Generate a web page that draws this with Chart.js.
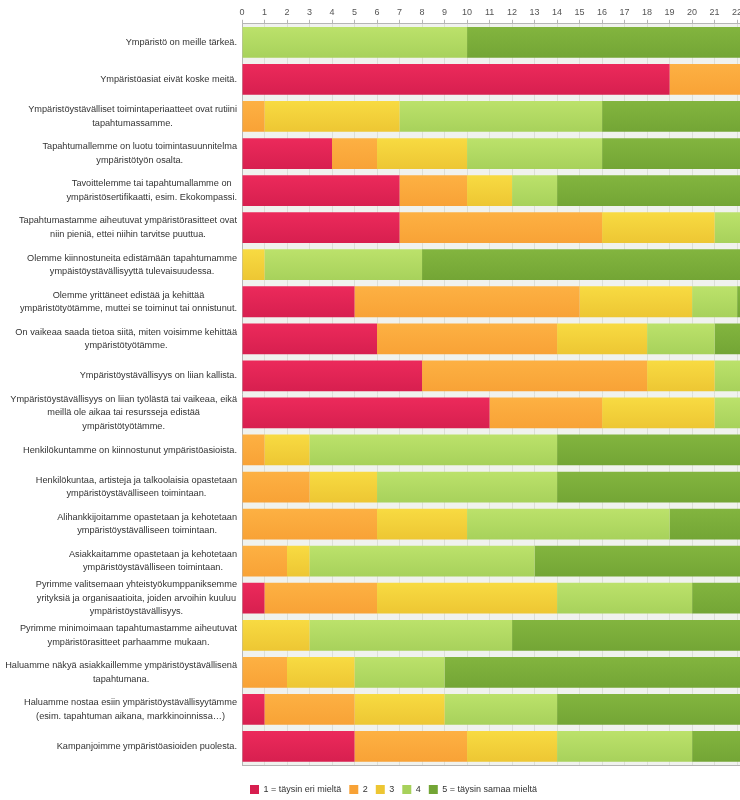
<!DOCTYPE html>
<html>
<head>
<meta charset="utf-8">
<script src="https://cdn.jsdelivr.net/npm/chart.js@4"></script>
<style>
  html, body { margin: 0; padding: 0; background: #fff; overflow: hidden; }
  #wrap { width: 740px; height: 800px; overflow: hidden; }
</style>
</head>
<body>
<div id="wrap"><canvas id="myChart" width="745" height="800"></canvas></div>
<script>
// vastaukset väittämittäin (lukumäärät)
var categories = [
    "Ympäristö on meille tärkeä.",
    "Ympäristöasiat eivät koske meitä.",
    ["Ympäristöystävälliset toimintaperiaatteet ovat rutiini", "tapahtumassamme."],
    ["Tapahtumallemme on luotu toimintasuunnitelma", "ympäristötyön osalta."],
    ["Tavoittelemme tai tapahtumallamme on", "ympäristösertifikaatti, esim. Ekokompassi."],
    ["Tapahtumastamme aiheutuvat ympäristörasitteet ovat", "niin pieniä, ettei niihin tarvitse puuttua."],
    ["Olemme kiinnostuneita edistämään tapahtumamme", "ympäistöystävällisyyttä tulevaisuudessa."],
    ["Olemme yrittäneet edistää ja kehittää", "ympäristötyötämme, muttei se toiminut tai onnistunut."],
    ["On vaikeaa saada tietoa siitä, miten voisimme kehittää", "ympäristötyötämme."],
    "Ympäristöystävällisyys on liian kallista.",
    ["Ympäristöystävällisyys on liian työlästä tai vaikeaa, eikä", "meillä ole aikaa tai resursseja edistää", "ympäristötyötämme."],
    "Henkilökuntamme on kiinnostunut ympäristöasioista.",
    ["Henkilökuntaa, artisteja ja talkoolaisia opastetaan", "ympäristöystävälliseen toimintaan."],
    ["Alihankkijoitamme opastetaan ja kehotetaan", "ympäristöystävälliseen toimintaan."],
    ["Asiakkaitamme opastetaan ja kehotetaan", "ympäristöystävälliseen toimintaan."],
    ["Pyrimme valitsemaan yhteistyökumppaniksemme", "yrityksiä ja organisaatioita, joiden arvoihin kuuluu", "ympäristöystävällisyys."],
    ["Pyrimme minimoimaan tapahtumastamme aiheutuvat", "ympäristörasitteet parhaamme mukaan."],
    ["Haluamme näkyä asiakkaillemme ympäristöystävällisenä", "tapahtumana."],
    ["Haluamme nostaa esiin ympäristöystävällisyytämme", "(esim. tapahtuman aikana, markkinoinnissa…)"],
    "Kampanjoimme ympäristöasioiden puolesta."
];

var seriesNames = ["1 = täysin eri mieltä", "2", "3", "4", "5 = täysin samaa mieltä"];

var vastaus1 = [0, 19, 0, 4, 7, 7, 0, 5, 6, 8, 11, 0, 0, 0, 0, 1, 0, 0, 1, 5];
var vastaus2 = [0, 5, 1, 2, 3, 9, 0, 10, 8, 10, 5, 1, 3, 6, 2, 5, 0, 2, 4, 5];
var vastaus3 = [0, 0, 6, 4, 2, 5, 1, 5, 4, 3, 5, 2, 3, 4, 1, 8, 3, 3, 4, 4];
var vastaus4 = [10, 0, 9, 6, 2, 3, 7, 2, 3, 3, 3, 11, 8, 9, 10, 6, 9, 4, 5, 6];
var vastaus5 = [14, 0, 8, 8, 10, 0, 16, 2, 3, 0, 0, 10, 10, 5, 11, 4, 12, 15, 10, 4];

var xTicksMax = 22;

var colorsTop = ['#ec2a5b', '#fdb143', '#f8db42', '#bce26b', '#83b53f'];
var colorsBottom = ['#d71f4f', '#f8a236', '#edc633', '#a7d15b', '#73a535'];

function barColor(i) {
    return function (context) {
        var chart = context.chart;
        var ys = chart.scales.y;
        if (context.type !== 'data' || !ys || !chart.chartArea) return colorsTop[i];
        var y = ys.getPixelForValue(context.dataIndex);
        var g = chart.ctx.createLinearGradient(0, y - 16, 0, y + 16);
        g.addColorStop(0, colorsTop[i]);
        g.addColorStop(1, colorsBottom[i]);
        return g;
    };
}

var allSeries = [vastaus1, vastaus2, vastaus3, vastaus4, vastaus5];
var datasets = allSeries.map(function (vals, i) {
    return {
        label: seriesNames[i],
        data: vals,
        backgroundColor: barColor(i),
        borderWidth: 0,
        barPercentage: 0.83,
        categoryPercentage: 1
    };
});

var FONT = '"Liberation Sans", Arial, sans-serif';

// taustaväri piirtoalueelle + alareuna
var plotBackground = {
    id: 'plotBackground',
    beforeDraw: function (chart) {
        var a = chart.chartArea, ctx = chart.ctx;
        ctx.save();
        ctx.fillStyle = '#f0f2ee';
        ctx.fillRect(a.left, a.top, a.right - a.left, a.bottom - a.top);
        ctx.restore();
    },
    afterDraw: function (chart) {
        var a = chart.chartArea, ctx = chart.ctx;
        ctx.save();
        ctx.strokeStyle = '#b5b5b5';
        ctx.lineWidth = 1;
        ctx.beginPath();
        ctx.moveTo(a.left, a.bottom + 0.5);
        ctx.lineTo(a.right, a.bottom + 0.5);
        ctx.stroke();
        ctx.restore();
    }
};

// y-akselin tekstit: lohko oikealle, rivit keskitetty
var categoryLabels = {
    id: 'categoryLabels',
    afterDraw: function (chart) {
        var ys = chart.scales.y, ctx = chart.ctx;
        var right = ys.right - 5;
        var lineH = 13.4;
        ctx.save();
        ctx.font = '9.2px ' + FONT;
        ctx.fillStyle = '#333';
        ctx.textAlign = 'center';
        ctx.textBaseline = 'middle';
        categories.forEach(function (lab, i) {
            var lines = Array.isArray(lab) ? lab : [lab];
            var w = 0;
            lines.forEach(function (l) { w = Math.max(w, ctx.measureText(l).width); });
            var cx = right - w / 2;
            var cy = ys.getPixelForValue(i);
            var y0 = cy - (lines.length - 1) * lineH / 2;
            lines.forEach(function (l, k) { ctx.fillText(l, cx, y0 + k * lineH); });
        });
        ctx.restore();
    }
};

var ctx = document.getElementById('myChart');
var myChart = new Chart(ctx, {
    type: 'bar',
    data: {
        labels: categories,
        datasets: datasets
    },
    options: {
        indexAxis: 'y',
        responsive: false,
        animation: false,
        layout: { padding: { top: 5, right: 0, bottom: -4, left: 0 } },
        scales: {
            x: {
                position: 'top',
                stacked: true,
                min: 0,
                max: xTicksMax + 0.35,
                ticks: {
                    stepSize: 1,
                    includeBounds: false,
                    color: '#555',
                    font: { family: FONT, size: 9 },
                    padding: 2,
                    maxRotation: 0
                },
                grid: { color: '#dcdfd8', tickColor: '#b5b5b5', tickLength: 4 },
                border: { color: '#b5b5b5' }
            },
            y: {
                stacked: true,
                ticks: { display: false },
                grid: { display: false },
                border: { color: '#b5b5b5' },
                afterFit: function (scale) { scale.width = 242; }
            }
        },
        plugins: {
            legend: {
                position: 'bottom',
                fullSize: false,
                align: 'start',
                title: { display: true, text: ' ', padding: 0, font: { size: 10, lineHeight: 1.2 } },
                labels: {
                    boxWidth: 9,
                    boxHeight: 9,
                    padding: 8,
                    color: '#333',
                    font: { family: FONT, size: 9 }
                }
            },
            tooltip: { enabled: false }
        }
    },
    plugins: [plotBackground, categoryLabels]
});
</script>
</body>
</html>
